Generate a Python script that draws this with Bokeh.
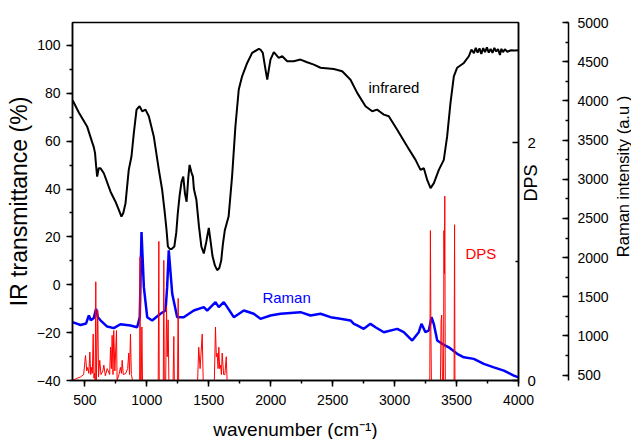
import math
from bokeh.plotting import figure
from bokeh.layouts import row
from bokeh.models import Range1d, LinearAxis, SingleIntervalTicker, FixedTicker, Label
from bokeh.embed import file_html
from bokeh.resources import INLINE

# ---------------- data ----------------
ir_wavenumber = [402, 451, 519, 559, 572, 582, 590, 599, 612, 626, 653, 707, 747, 774, 795,
                 810, 828, 854, 876, 895, 917, 941, 963, 989, 1016, 1056, 1097, 1124, 1145,
                 1159, 1170, 1185, 1200, 1222, 1238, 1250, 1264, 1280, 1294, 1308, 1321, 1335,
                 1345, 1360, 1372, 1380, 1400, 1421, 1440, 1460, 1480, 1500, 1515, 1530, 1550,
                 1568, 1585, 1600, 1614, 1630, 1660, 1688, 1715, 1742, 1769, 1810, 1850, 1904,
                 1917, 1936, 1958, 1972, 1985, 1998, 2025, 2065, 2093, 2133, 2186, 2240, 2294,
                 2348, 2402, 2509, 2577, 2644, 2698, 2765, 2819, 2859, 2890, 2913, 2953, 3021,
                 3102, 3169, 3209, 3236, 3263, 3290, 3317, 3357, 3397, 3424, 3451, 3478, 3505,
                 3559, 3599, 3620, 3640, 3655, 3670, 3685, 3700, 3715, 3730, 3745, 3760, 3775,
                 3790, 3805, 3820, 3835, 3850, 3862, 3875, 3890, 3910, 3940, 3970, 4000]
ir_transmittance = [77, 72, 66, 59.5, 57.5, 55, 50, 45.2, 48.7, 48.7, 46.6, 38.9, 34.7, 31.3, 28.5,
                    30, 34.1, 48.0, 53.6, 63.4, 73.2, 74.6, 72.5, 73.2, 70.4, 62.0, 48.0, 39.6, 30,
                    22.9, 16, 15, 15, 16, 22, 30, 37, 43, 45.2, 38, 34.7, 45,
                    50.1, 47, 45.2, 40, 35.5, 24.3, 16, 13.1, 18, 23.8, 18, 12, 8,
                    6.1, 7, 10, 17, 22.9, 28.5, 45.2, 66.2, 81.6, 87.1, 92.7, 96.9, 98.6,
                    98.3, 96.9, 89.9, 85.7, 90, 94.1, 97.2, 94.8, 95.5, 93.4, 93.4, 94.1, 93.0,
                    92.0, 90.7, 90.2, 89.2, 85.7, 80.2, 74.6, 72.5, 73.2, 72, 71.1, 70.4, 64.8,
                    57.8, 52.2, 48.0, 48.7, 43.8, 40.4, 42.5, 48, 52.2, 62, 76, 87.1, 90.7,
                    92.7, 95.5, 98.3, 96.8, 99.0, 97.0, 98.8, 96.5, 98.9, 97.2, 99.2, 97.0, 98.6,
                    96.9, 99.0, 97.5, 98.5, 96.0, 98.6, 97.2, 98.4, 97.4, 98.0, 97.9, 98.0]

raman_wavenumber = [400, 465, 510, 532, 548, 572, 590, 605, 626, 680, 733, 787, 868, 922, 943,
                    957, 976, 1003, 1043, 1110, 1151, 1164, 1177, 1205, 1245, 1298, 1379, 1460,
                    1487, 1554, 1581, 1621, 1649, 1702, 1783, 1863, 1917, 1998, 2079, 2240, 2321,
                    2402, 2483, 2563, 2644, 2671, 2698, 2751, 2805, 2846, 2913, 3021, 3074, 3142,
                    3195, 3217, 3249, 3276, 3298, 3316, 3344, 3384, 3437, 3505, 3559, 3639, 3720,
                    3801, 3882, 3962, 4000]
raman_intensity = [1176, 1140, 1160, 1262, 1200, 1230, 1347, 1240, 1200, 1120, 1100, 1150, 1134, 1112, 1240,
                   2327, 1623, 1240, 1198, 1283, 1325, 1623, 2093, 1539, 1240, 1240, 1325, 1368,
                   1325, 1432, 1368, 1432, 1368, 1240, 1325, 1283, 1219, 1262, 1283, 1304, 1262,
                   1283, 1240, 1219, 1198, 1155, 1134, 1091, 1155, 1112, 1048, 1091, 1048, 942,
                   1048, 1155, 1048, 1070, 1240, 1155, 942, 900, 856, 772, 728, 708, 644,
                   600, 558, 494, 472]

dps_wavenumber = [400, 440, 465, 490, 505, 515, 523, 532, 540, 547, 553, 560, 567, 573, 578, 583,
                  588, 592, 598, 604, 610, 620, 630, 645, 653, 665, 680, 700, 707, 714, 720, 727,
                  733, 742, 755, 760, 775, 787, 795, 801, 810, 830, 845, 854, 860, 868, 875, 885,
                  942, 945, 948, 955, 960, 965, 1092, 1097, 1100, 1133, 1137, 1141, 1152, 1159,
                  1165, 1172, 1178, 1212, 1218, 1222, 1248, 1253, 1257, 1410, 1419, 1430, 1447,
                  1455, 1545, 1554, 1561, 1568, 1575, 1581, 1588, 1595, 1602, 1608, 1620, 1630,
                  1641, 1648, 3284, 3289, 3293, 3297, 3370, 3375, 3380, 3386, 3395, 3398, 3402,
                  3405, 3409, 3480, 3484, 3487, 4000]
dps_value = [0, 0.02, 0.03, 0.05, 0.21, 0.08, 0.11, 0.06, 0.24, 0.05, 0.11, 0.06, 0.39, 0.02, 0.06, 0.0,
             0.83, 0.0, 0.30, 0.59, 0.03, 0.17, 0.05, 0.08, 0.13, 0.04, 0.10, 0.05, 0.28, 0.10, 0.38, 0.05,
             0.42, 0.08, 0.42, 0.0, 0.05, 0.11, 0.06, 0.17, 0.05, 0.06, 0.10, 0.23, 0.05, 0.39, 0.05, 0.0,
             0.0, 1.04, 0.0, 0.0, 0.45, 0.0, 0.0, 1.17, 0.0, 0.0, 1.01, 0.0, 0.0, 0.62,
             0.2, 0.51, 0.0, 0.0, 0.37, 0.0, 0.0, 0.69, 0.0, 0.0, 0.28, 0.10, 0.39,
             0.0, 0.0, 0.45, 0.2, 0.23, 0.1, 0.28, 0.1, 0.13, 0.05, 0.23, 0.05, 0.05,
             0.2, 0.0, 0.0, 1.26, 0.41, 0.0, 0.0, 0.5, 0.55, 0.0, 0.0, 1.26, 0.9,
             1.55, 0.0, 0.0, 1.31, 0.0, 0]

x_ticks_interval = 500
ir_ticks_interval = 20
raman_ticks_interval = 500
dps_major_ticks = [0, 2]
dps_minor_ticks = [1]

FONT = "Liberation Sans"

p = figure(frame_width=446, frame_height=358,
           x_range=Range1d(400, 4000), y_range=Range1d(-40, 109.6),
           output_backend="svg", toolbar_location=None,
           min_border_left=72, min_border_right=88, min_border_top=22, min_border_bottom=59,
           background_fill_color="white", border_fill_color="white")
p.extra_y_ranges = {"dps": Range1d(0, 3.01), "raman": Range1d(432, 5000)}
p.xgrid.visible = False
p.ygrid.visible = False
p.outline_line_color = "black"
p.outline_line_width = 1.5


def style(ax, label_size):
    ax.axis_line_width = 1.5
    ax.axis_line_color = "black"
    ax.major_tick_line_width = 1.5
    ax.minor_tick_line_width = 1.5
    ax.major_tick_line_color = "black"
    ax.minor_tick_line_color = "black"
    ax.major_label_text_font = FONT
    ax.major_label_text_font_size = "14px"
    ax.major_label_text_color = "black"
    ax.axis_label_text_font = FONT
    ax.axis_label_text_font_style = "normal"
    ax.axis_label_text_font_size = label_size
    ax.axis_label_text_color = "black"


xa = p.xaxis[0]
xa.ticker = SingleIntervalTicker(interval=x_ticks_interval, num_minor_ticks=2)
style(xa, "19px")
xa.axis_label = "wavenumber (cm\u207b\u00b9)"
xa.major_tick_out = 6
xa.major_tick_in = 0
xa.minor_tick_out = 3
xa.minor_tick_in = 0
xa.major_label_standoff = 8
xa.axis_label_standoff = 11

ya = p.yaxis[0]
ya.ticker = SingleIntervalTicker(interval=ir_ticks_interval, num_minor_ticks=2)
style(ya, "23px")
ya.axis_label = "IR transmittance (%)"
ya.major_tick_out = 6
ya.major_tick_in = 0
ya.minor_tick_out = 3
ya.minor_tick_in = 0
ya.major_label_standoff = 6
ya.axis_label_standoff = 2

dps_axis = LinearAxis(y_range_name="dps",
                      ticker=FixedTicker(ticks=dps_major_ticks, minor_ticks=dps_minor_ticks),
                      axis_label="DPS")
style(dps_axis, "18px")
dps_axis.major_tick_in = 6
dps_axis.major_tick_out = 0
dps_axis.minor_tick_in = 3
dps_axis.minor_tick_out = 0
dps_axis.major_label_standoff = 9
dps_axis.major_label_text_font_size = "15px"
dps_axis.axis_label_standoff = -8
dps_axis.axis_label_orientation = math.pi / 2
p.add_layout(dps_axis, "right")

# empty axis used only as a gap between the DPS axis and the Raman axis
spacer = LinearAxis(y_range_name="dps", ticker=FixedTicker(ticks=[1.5]),
                    major_label_overrides={1.5: ""})
spacer.axis_line_color = None
spacer.major_tick_line_color = None
spacer.minor_tick_line_color = None
spacer.major_tick_out = 15
spacer.major_tick_in = 0
spacer.minor_tick_out = 0
spacer.major_label_standoff = 0
p.add_layout(spacer, "right")

raman_axis = LinearAxis(y_range_name="raman",
                        ticker=SingleIntervalTicker(interval=raman_ticks_interval, num_minor_ticks=2))
style(raman_axis, "16.5px")
raman_axis.major_tick_in = 6
raman_axis.major_tick_out = 0
raman_axis.minor_tick_in = 3
raman_axis.minor_tick_out = 0
raman_axis.major_label_standoff = 9
p.add_layout(raman_axis, "right")

p.line(ir_wavenumber, ir_transmittance, line_color="black", line_width=2)
p.line(raman_wavenumber, raman_intensity, line_color="#0000ff", line_width=2.5, y_range_name="raman")
p.line(dps_wavenumber, dps_value, line_color="#ff0000", line_width=1, y_range_name="dps")

p.add_layout(Label(x=2789, y=82.4, text="infrared", text_font=FONT, text_font_size="15px",
                   text_color="black", text_baseline="middle", text_align="left"))
p.add_layout(Label(x=1933, y=-5.2, text="Raman", text_font=FONT, text_font_size="15px",
                   text_color="#0000ff", text_baseline="middle", text_align="left"))
p.add_layout(Label(x=3572, y=13.2, text="DPS", text_font=FONT, text_font_size="15px",
                   text_color="#ff0000", text_baseline="middle", text_align="left"))

# narrow strip on the right carrying the Raman axis title (reads upwards)
p2 = figure(frame_width=20, frame_height=358, x_range=Range1d(0, 20), y_range=Range1d(0, 358),
            output_backend="svg", toolbar_location=None,
            x_axis_location=None, y_axis_location=None,
            min_border_left=0, min_border_right=0, min_border_top=22, min_border_bottom=59,
            background_fill_color="white", border_fill_color="white")
p2.outline_line_color = None
p2.xgrid.visible = False
p2.ygrid.visible = False
p2.add_layout(Label(x=11, y=204, text="Raman intensity (a.u )", angle=math.pi / 2, angle_units="rad",
                    text_font=FONT, text_font_size="16.5px", text_color="black",
                    text_baseline="middle", text_align="center"))

layout = row(p, p2, spacing=0)
open("out.html", "w").write(file_html(layout, INLINE))
